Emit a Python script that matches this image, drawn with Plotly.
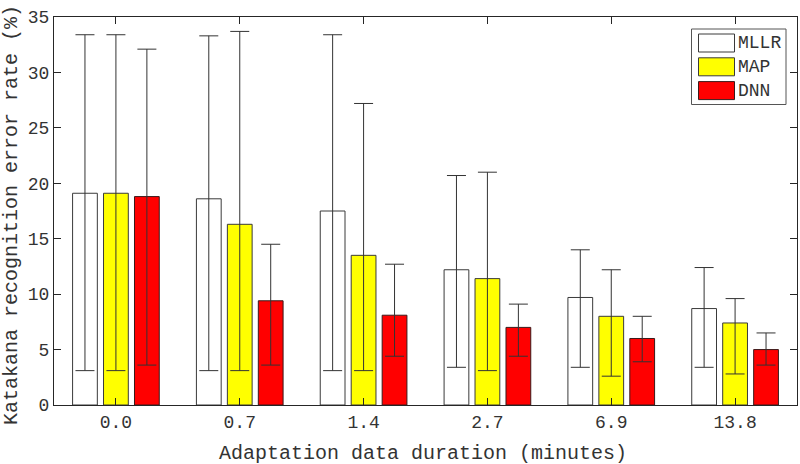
import plotly.graph_objects as go

categories = ["0.0", "0.7", "1.4", "2.7", "6.9", "13.8"]
series_names = ["MLLR", "MAP", "DNN"]
mllr = [19.1, 18.6, 17.5, 12.2, 9.7, 8.7]
mllr_hi = [33.4, 33.3, 33.4, 20.7, 14.0, 12.4]
mllr_lo = [3.1, 3.1, 3.1, 3.4, 3.4, 3.4]
map_ = [19.1, 16.3, 13.5, 11.4, 8.0, 7.4]
map_hi = [33.4, 33.7, 27.2, 21.0, 12.2, 9.6]
map_lo = [3.1, 3.1, 3.1, 3.1, 2.6, 2.8]
dnn = [18.8, 9.4, 8.1, 7.0, 6.0, 5.0]
dnn_hi = [32.1, 14.5, 12.7, 9.1, 8.0, 6.5]
dnn_lo = [3.6, 3.6, 4.4, 4.4, 3.9, 3.6]
x_title = "Adaptation data duration (minutes)"
y_title = "Katakana recognition error rate (%)"

fills = ["#ffffff", "#ffff00", "#ff0000"]
outlines = ["#3a3a3a", "#3a3a3a", "#3a1a1a"]
FONT = "Liberation Mono, Courier New, monospace"
TXT = "#333333"

L, R, T, B = 54, 797, 17, 405
PW, PH = R - L, B - T

fig = go.Figure()
for name, vals, hi, lo, fc, lc in zip(series_names, [mllr, map_, dnn], [mllr_hi, map_hi, dnn_hi],
                                      [mllr_lo, map_lo, dnn_lo], fills, outlines):
    fig.add_trace(go.Bar(
        x=categories, y=vals, name=name,
        marker=dict(color=fc, line=dict(color=lc, width=1)),
        error_y=dict(type="data", symmetric=False,
                     array=[h - v for h, v in zip(hi, vals)],
                     arrayminus=[v - l for v, l in zip(vals, lo)],
                     color="#333333", thickness=1, width=9.5),
        showlegend=False,
    ))

def fx(x): return (x - L) / PW
def fy(y): return (B - y) / PH

# custom legend (box with large swatches)
shapes = [dict(type="rect", xref="paper", yref="paper", x0=fx(691.5), x1=fx(786),
               y0=fy(104.5), y1=fy(29), line=dict(color="#555555", width=1),
               fillcolor="white", layer="above")]
annotations = []
for i, (name, fc, lc) in enumerate(zip(series_names, fills, outlines)):
    yc = 43 + i * 23.8
    shapes.append(dict(type="rect", xref="paper", yref="paper",
                       x0=fx(698.5), x1=fx(734.5), y0=fy(yc + 9), y1=fy(yc - 9),
                       line=dict(color=lc, width=1), fillcolor=fc, layer="above"))
    annotations.append(dict(xref="paper", yref="paper", x=fx(736), y=fy(yc),
                            text=name, showarrow=False, xanchor="left", yanchor="middle",
                            font=dict(family=FONT, size=18, color=TXT)))

annotations.append(dict(xref="paper", yref="paper", x=fx(423), y=fy(453), text=x_title,
                        showarrow=False, xanchor="center", yanchor="middle",
                        font=dict(family=FONT, size=20, color=TXT)))
annotations.append(dict(xref="paper", yref="paper", x=fx(11), y=fy(215), text=y_title,
                        showarrow=False, xanchor="center", yanchor="middle", textangle=-90,
                        font=dict(family=FONT, size=20, color=TXT)))

fig.update_layout(
    width=800, height=464,
    margin=dict(l=L, r=800 - R, t=T, b=464 - B, autoexpand=False),
    barmode="group", bargap=0.25, bargroupgap=0.2,
    plot_bgcolor="white", paper_bgcolor="white",
    font=dict(family=FONT, size=18, color=TXT),
    shapes=shapes, annotations=annotations,
    xaxis=dict(type="category", range=[-0.5, 5.5], showline=True, linecolor="#262626",
               linewidth=1, mirror="ticks", ticks="inside", ticklen=7, tickcolor="#262626",
               showgrid=False, zeroline=False, automargin=False,
               tickfont=dict(size=18)),
    yaxis=dict(range=[0, 35], tickvals=[0, 5, 10, 15, 20, 25, 30, 35], showline=True,
               linecolor="#262626", linewidth=1, mirror="ticks", ticks="inside", ticklen=7,
               tickcolor="#262626", showgrid=False, zeroline=False, automargin=False,
               tickfont=dict(size=18)),
)
fig.write_html("out.html", config={"displayModeBar": False})

# remove the default page margin so the figure sits at the window's top-left corner
with open("out.html", "r", encoding="utf-8") as f:
    html = f.read()
html = html.replace("<head>", "<head><style>html,body{margin:0;padding:0;overflow:hidden;}</style>", 1)
with open("out.html", "w", encoding="utf-8") as f:
    f.write(html)
